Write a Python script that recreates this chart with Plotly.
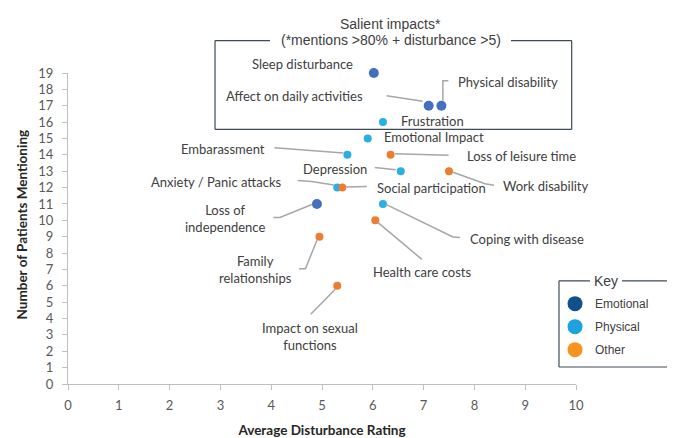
import plotly.graph_objects as go

# ---------------- data ----------------
impacts = ["Sleep disturbance", "Affect on daily activities", "Physical disability",
           "Frustration", "Emotional Impact", "Embarassment", "Loss of leisure time",
           "Depression", "Work disability", "Anxiety / Panic attacks",
           "Social participation", "Loss of independence", "Coping with disease",
           "Health care costs", "Family relationships", "Impact on sexual functions"]
disturbance = [6.02, 7.1, 7.35, 6.2, 5.9, 5.5, 6.35, 6.55, 7.5, 5.3, 5.4, 4.9, 6.2, 6.05, 4.95, 5.3]
mentions = [19, 17, 17, 16, 15, 14, 14, 13, 13, 12, 12, 11, 11, 10, 9, 6]
category = ["Emotional", "Emotional", "Emotional", "Physical", "Physical", "Physical", "Other",
            "Physical", "Other", "Physical", "Other", "Emotional", "Physical", "Other",
            "Other", "Other"]
categories = ["Emotional", "Physical", "Other"]
x_ticks = list(range(0, 11))
y_ticks = list(range(0, 20))

# ---------------- styles ----------------
point_colors = {"Emotional": "#4470C0", "Physical": "#2AAEE6", "Other": "#ED7D31"}
key_colors = {"Emotional": "#11508A", "Physical": "#1DA2DF", "Other": "#F7931E"}
point_sizes = {"Emotional": 10, "Physical": 8, "Other": 8}
TEXT = "#404040"
LBL_FONT = dict(family="Lato", size=13, color=TEXT)

# label placement: (text, xanchor, dx, dy) in screen px from the dot (dy down)
label_pos = {
    "Sleep disturbance": ("Sleep disturbance", "right", -19, -9),
    "Affect on daily activities": ("Affect on daily activities", "right", -64, -10),
    "Physical disability": ("Physical disability", "left", 15, -24),
    "Frustration": ("Frustration", "left", 16, -1),
    "Emotional Impact": ("Emotional Impact", "left", 14, -1.5),
    "Embarassment": ("Embarassment", "right", -80, -6),
    "Loss of leisure time": ("Loss of leisure time", "left", 74, 1),
    "Depression": ("Depression", "right", -32, -2),
    "Work disability": ("Work disability", "left", 52, 15),
    "Anxiety / Panic attacks": ("Anxiety / Panic attacks", "right", -53, -5.5),
    "Social participation": ("Social participation", "left", 33, 0),
    "Loss of independence": ("Loss of<br>independence", "center", -92, 15),
    "Coping with disease": ("Coping with disease", "left", 85, 35),
    "Health care costs": ("Health care costs", "center", 47, 52),
    "Family relationships": ("Family<br>relationships", "center", -64, 33),
    "Impact on sexual functions": ("Impact on sexual<br>functions", "center", -27, 51),
}
# leader polylines, screen px offsets from the dot (dy down)
leaders = {
    "Sleep disturbance": [(-14, -10), (-6, -9), (-3, -4)],
    "Affect on daily activities": [(-42, -10), (-6, -4.5)],
    "Physical disability": [(7, -25), (1.5, -25), (1.5, -5)],
    "Embarassment": [(-73, -7), (-4, -1.8)],
    "Loss of leisure time": [(4.5, -1), (58, 0.5)],
    "Depression": [(-26, -3.6), (-5, -1.5)],
    "Work disability": [(4, 1), (36, 12.5), (45, 14)],
    "Anxiety / Panic attacks": [(-39.5, -7), (-25.5, -6), (-3.5, -2.5)],
    "Social participation": [(4, -0.5), (24.5, -1.2)],
    "Loss of independence": [(-43.5, 13.6), (-37, 13.6), (-5, 0.5)],
    "Coping with disease": [(4, 1), (70, 33), (77, 33.6)],
    "Health care costs": [(3, 2.5), (46.5, 39)],
    "Family relationships": [(-20.5, 32), (-14, 32), (-2.5, 3.5)],
    "Impact on sexual functions": [(-26.5, 28.5), (-2, 3.5)],
}

fig = go.Figure()

# data points, one trace per category
for cat in categories:
    idx = [i for i, c in enumerate(category) if c == cat]
    fig.add_trace(go.Scatter(
        x=[disturbance[i] for i in idx], y=[mentions[i] for i in idx],
        text=[impacts[i] for i in idx], mode="markers", name=cat,
        marker=dict(color=point_colors[cat], size=point_sizes[cat], line=dict(width=0)),
        showlegend=False, cliponaxis=False, hovertemplate="%{text}<extra></extra>"))

# key entries
for cat in categories:
    fig.add_trace(go.Scatter(
        x=[None], y=[None], mode="markers", name=cat, legendgroup=cat,
        marker=dict(color=key_colors[cat], size=15, line=dict(width=0))))

annotations = []
shapes = []
for i, name in enumerate(impacts):
    txt, xa, dx, dy = label_pos[name]
    annotations.append(dict(x=disturbance[i], y=mentions[i], xref="x", yref="y",
                            text=txt, showarrow=False, xanchor=xa, yanchor="middle",
                            xshift=dx, yshift=-dy, align="center", font=LBL_FONT))
    if name in leaders:
        pts = leaders[name]
        path = "M " + " L ".join(f"{px},{-py}" for px, py in pts)
        shapes.append(dict(type="path", xref="x", yref="y", xsizemode="pixel",
                           ysizemode="pixel", xanchor=disturbance[i], yanchor=mentions[i],
                           path=path, line=dict(color="#A6A6A6", width=1.5)))

# salient impacts box (broken top border around its title), plot-fraction coords
BOX = dict(color="#3F4A57", width=1.2)
bx0, bx1, by0, by1 = 0.2894, 0.9915, 0.8186, 1.1043
gap0, gap1 = 0.3976, 0.8720
for (a, b, c, d) in [(bx0, bx0, by0, by1), (bx1, bx1, by0, by1), (bx0, bx1, by0, by0),
                     (bx0, gap0, by1, by1), (gap1, bx1, by1, by1)]:
    shapes.append(dict(type="line", xref="paper", yref="paper", x0=a, x1=b, y0=c, y1=d,
                       line=BOX))
TITLE_FONT = dict(family="Liberation Sans", size=14, color=TEXT)
annotations.append(dict(x=0.6358, y=1.1589, xref="paper", yref="paper", showarrow=False,
                        text="Salient impacts*", xanchor="center", yanchor="middle",
                        font=TITLE_FONT))
annotations.append(dict(x=0.6358, y=1.1061, xref="paper", yref="paper", showarrow=False,
                        text="(*mentions >80% + disturbance >5)", xanchor="center",
                        yanchor="middle", font=TITLE_FONT))

# key box
kx0, kx1, ky0, ky1 = 0.9665, 1.183, 0.0546, 0.3316
kg0, kg1 = 1.0276, 1.0906
for (a, b, c, d) in [(kx0, kx0, ky0, ky1), (kx1, kx1, ky0, ky1), (kx0, kx1, ky0, ky0),
                     (kx0, kg0, ky1, ky1), (kg1, kx1, ky1, ky1)]:
    shapes.append(dict(type="line", xref="paper", yref="paper", x0=a, x1=b, y0=c, y1=d,
                       line=BOX))
annotations.append(dict(x=(kg0 + kg1) / 2, y=ky1, xref="paper", yref="paper", showarrow=False,
                        text="Key", xanchor="center", yanchor="middle", font=TITLE_FONT))

# y-axis title
annotations.append(dict(x=0, y=0.513, xref="paper", yref="paper", showarrow=False,
                        text="<b>Number of Patients Mentioning</b>", textangle=-90,
                        xanchor="center", yanchor="middle", xshift=-46,
                        font=dict(family="Lato", size=13.5, color="#262626")))

AX = dict(showgrid=False, zeroline=False, showline=True, linecolor="#BFBFBF", linewidth=1,
          ticks="outside", ticklen=5, tickcolor="#BFBFBF", tickwidth=1,
          tickfont=dict(family="Lato", size=13, color="#595959"))

# the page body has an 8px margin, so the figure is 8px smaller and its margins shifted
fig.update_layout(
    width=667, height=430,
    margin=dict(l=60, r=99, t=64.5, b=54, autoexpand=False),
    paper_bgcolor="white", plot_bgcolor="white",
    xaxis=dict(range=[0, 10], tickvals=x_ticks, ticklabelstandoff=4,
               title=dict(text="<b>Average Disturbance Rating</b>", standoff=16,
                          font=dict(family="Lato", size=13.5, color="#262626")), **AX),
    yaxis=dict(range=[0, 19], tickvals=y_ticks, ticklabelstandoff=6, **AX),
    legend=dict(x=0.9587, y=0.305, xanchor="left", yanchor="top", bgcolor="rgba(0,0,0,0)",
                borderwidth=0, tracegroupgap=4, itemclick=False, itemdoubleclick=False,
                font=dict(family="Liberation Sans", size=12, color=TEXT)),
    showlegend=True,
    annotations=annotations, shapes=shapes,
)

fig.write_html("out.html")
